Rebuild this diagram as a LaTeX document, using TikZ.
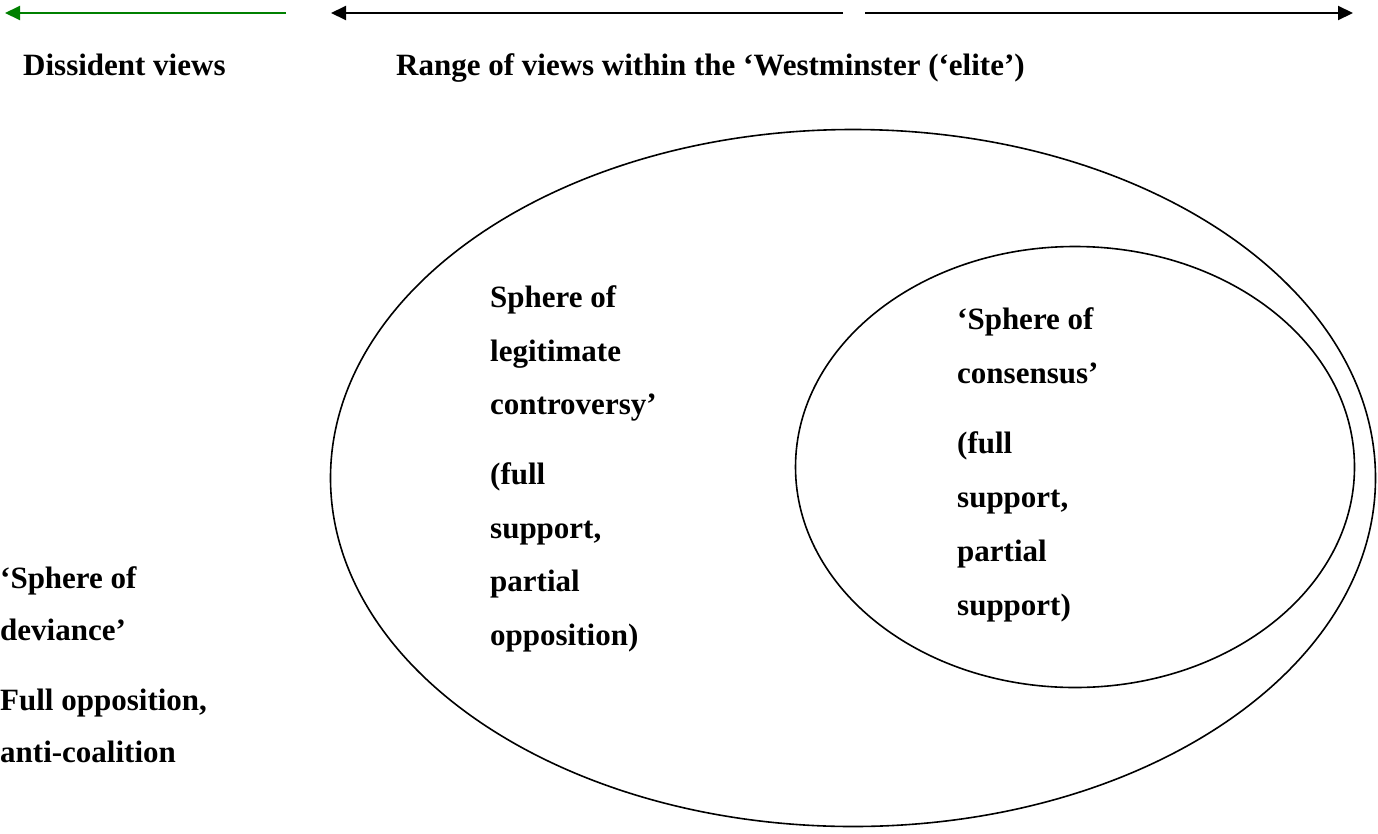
\documentclass[tikz,border=0pt]{standalone}
\usepackage{fontspec}
\setmainfont{Liberation Serif}
\usetikzlibrary{arrows.meta,shapes.geometric}
\definecolor{arrowgreen}{RGB}{0,128,0}
\begin{document}
\begin{tikzpicture}[x=1pt,y=-1pt,
  lbl/.style={anchor=base west,inner sep=0pt,font=\fontsize{31}{36}\selectfont\bfseries},
  rangearrow/.style={line width=2pt,-{Triangle[length=15pt,width=14pt]}},
  sphere/.style={draw,line width=1.6pt,ellipse,inner sep=0pt}]
\useasboundingbox (0,0) rectangle (1378,833);
% arrows
\coordinate (gS) at (286,13);
\coordinate (gE) at (5,13);
\coordinate (bLS) at (843,13);
\coordinate (bLE) at (331,13);
\coordinate (bRS) at (865,13);
\coordinate (bRE) at (1353,13);
\draw[rangearrow,arrowgreen] (gS) -- (gE);
\draw[rangearrow] (bLS) -- (bLE);
\draw[rangearrow] (bRS) -- (bRE);
% labels top
\node[lbl] (diss) at (23,75) {Dissident views};
\node[lbl] (range) at (396,75) {Range of views within the ‘Westminster (‘elite’)};
% ellipses
\node[sphere,minimum width=1045pt,minimum height=697pt] (outer) at (853,478) {};
\node[sphere,minimum width=559pt,minimum height=441pt] (inner) at (1075,467) {};
% legitimate controversy
\node[lbl] (c1) at (490,307) {Sphere of};
\node[lbl] (c2) at (490,361) {legitimate};
\node[lbl] (c3) at (490,414) {controversy’};
\node[lbl] (c4) at (490,484) {(full};
\node[lbl] (c5) at (490,538) {support,};
\node[lbl] (c6) at (490,591) {partial};
\node[lbl] (c7) at (490,645) {opposition)};
% consensus
\node[lbl] (s1) at (957,329) {‘Sphere of};
\node[lbl] (s2) at (957,383) {consensus’};
\node[lbl] (s3) at (957,453) {(full};
\node[lbl] (s4) at (957,507) {support,};
\node[lbl] (s5) at (957,561) {partial};
\node[lbl] (s6) at (957,615) {support)};
% deviance
\node[lbl] (d1) at (0,588) {‘Sphere of};
\node[lbl] (d2) at (0,640) {deviance’};
\node[lbl] (d3) at (0,710) {Full opposition,};
\node[lbl] (d4) at (0,762) {anti-coalition};
\end{tikzpicture}
\end{document}
